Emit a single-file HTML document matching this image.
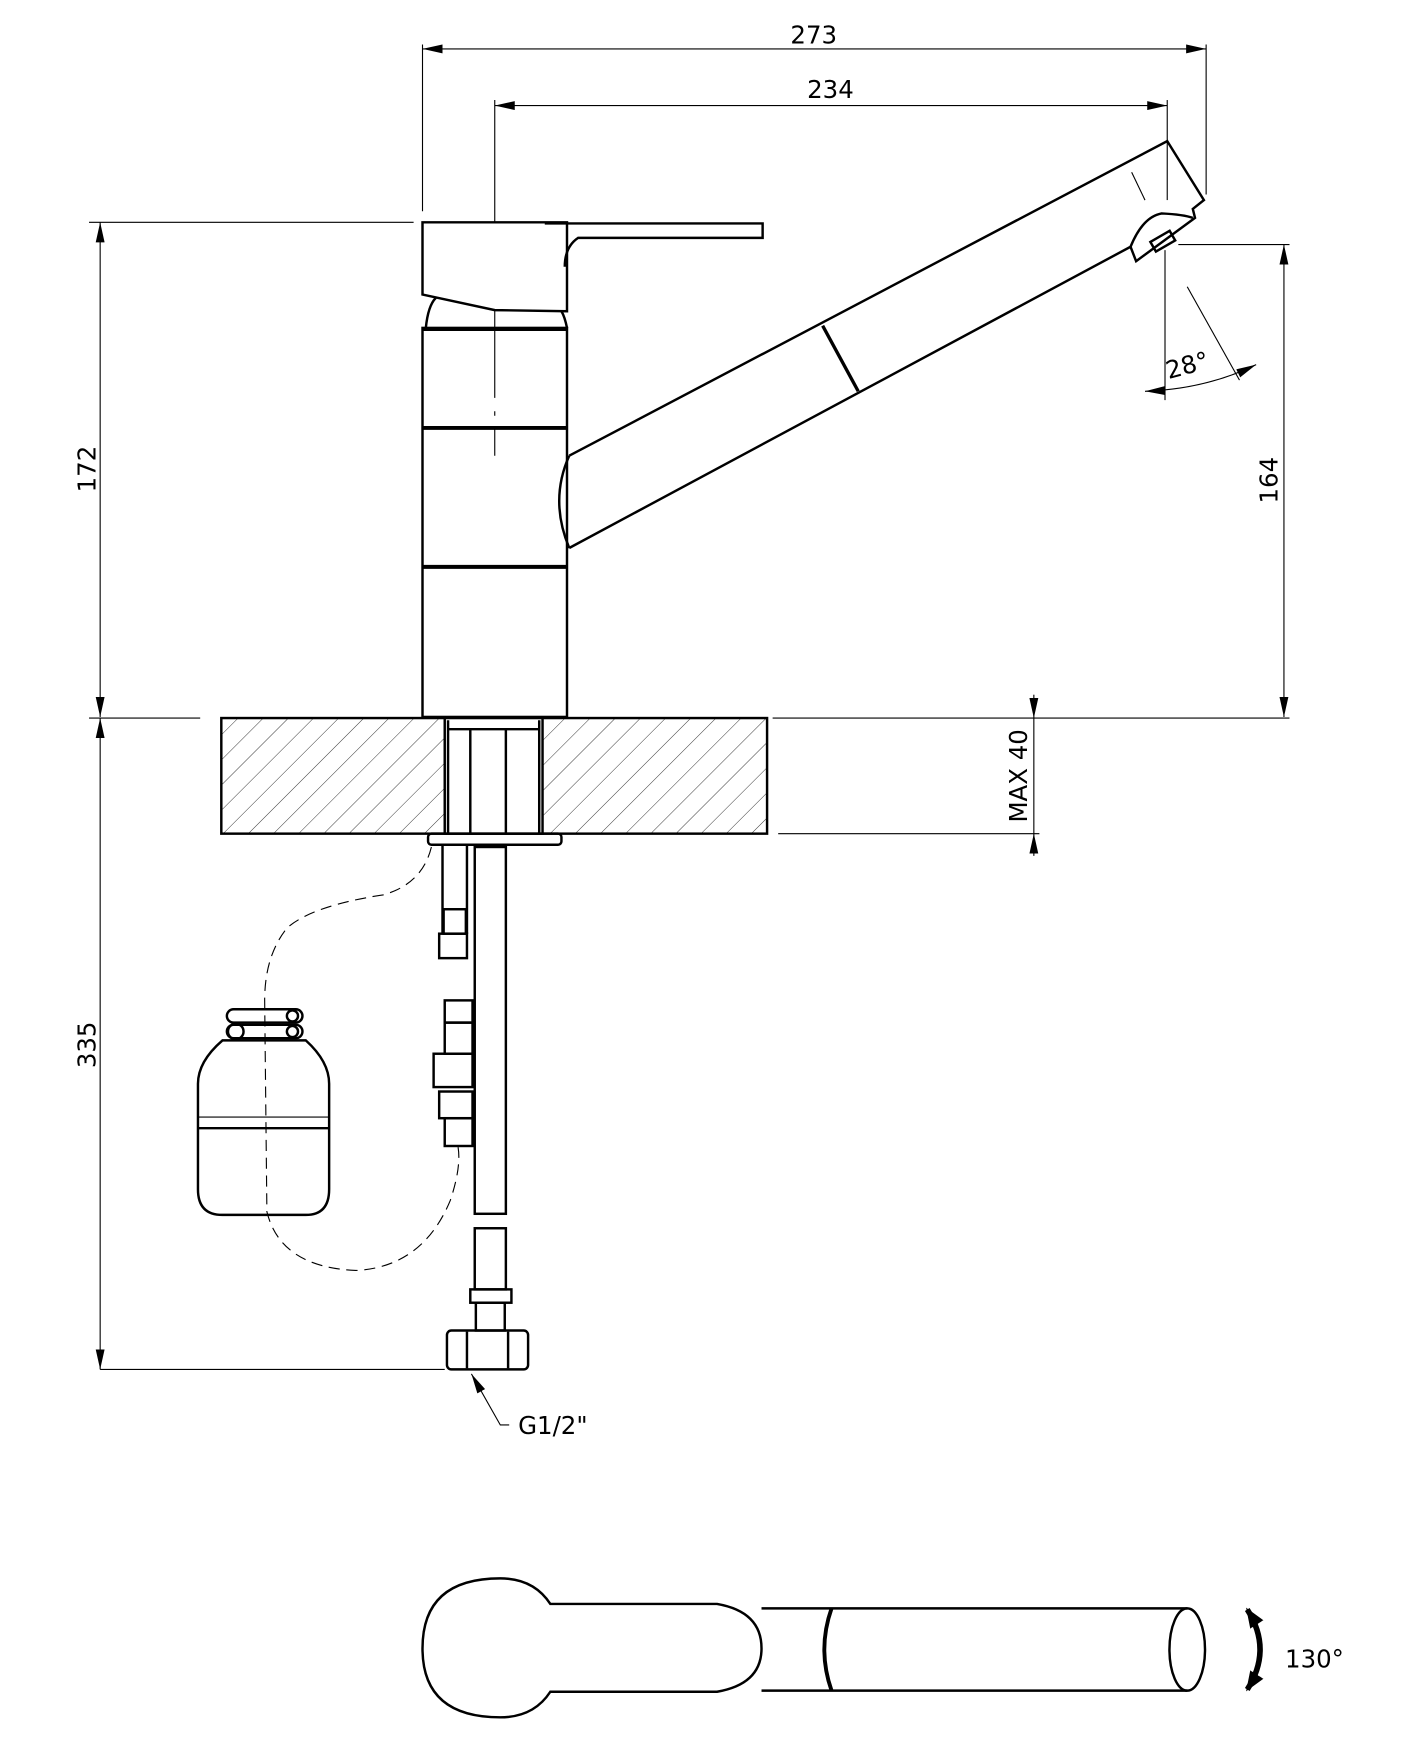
<!DOCTYPE html>
<html><head><meta charset="utf-8"><style>html,body{margin:0;padding:0;background:#fff}svg{display:block}</style></head>
<body>
<svg width="1423" height="1754" viewBox="0 0 1280 1578" xmlns="http://www.w3.org/2000/svg" font-family="'Liberation Sans Narrow','DejaVu Sans','Liberation Sans',sans-serif">
<defs>
<pattern id="h" width="16" height="16" patternUnits="userSpaceOnUse" patternTransform="rotate(45)"><line x1="0" y1="0" x2="0" y2="16" stroke="#222" stroke-width="0.8"/></pattern>
<marker id="a" markerWidth="18" markerHeight="8" refX="18" refY="4" orient="auto" markerUnits="userSpaceOnUse"><path d="M0,0 L18,4 L0,8 z" fill="#000"/></marker>
<marker id="b" markerWidth="18" markerHeight="8" refX="0" refY="4" orient="auto" markerUnits="userSpaceOnUse"><path d="M18,0 L0,4 L18,8 z" fill="#000"/></marker>
<marker id="c" markerWidth="18" markerHeight="14" refX="16" refY="7" orient="auto" markerUnits="userSpaceOnUse"><path d="M0,0 L18,7 L0,14 z" fill="#000"/></marker>
<marker id="d" markerWidth="18" markerHeight="14" refX="2" refY="7" orient="auto" markerUnits="userSpaceOnUse"><path d="M18,0 L0,7 L18,14 z" fill="#000"/></marker>
</defs>
<g stroke="#000" fill="none" stroke-width="1">
<line x1="380" y1="44" x2="1085" y2="44" marker-start="url(#b)" marker-end="url(#a)"/>
<line x1="380" y1="40" x2="380" y2="190"/><line x1="1085" y1="40" x2="1085" y2="175"/>
<line x1="445" y1="95" x2="1050" y2="95" marker-start="url(#b)" marker-end="url(#a)"/>
<line x1="1050" y1="90" x2="1050" y2="180"/>
<line x1="445" y1="90" x2="445" y2="410" stroke-dasharray="160,12,4,12,80,12,4,12"/>
<line x1="80" y1="200" x2="372" y2="200"/>
<line x1="90" y1="200" x2="90" y2="645" marker-start="url(#b)" marker-end="url(#a)"/>
<line x1="80" y1="646" x2="180" y2="646"/><line x1="695" y1="646" x2="1160" y2="646"/>
<line x1="1155" y1="220" x2="1155" y2="645" marker-start="url(#b)" marker-end="url(#a)"/>
<line x1="1060" y1="220" x2="1160" y2="220"/>
<line x1="930" y1="625" x2="930" y2="646" marker-end="url(#a)"/>
<line x1="930" y1="770" x2="930" y2="750" marker-end="url(#a)"/>
<line x1="930" y1="646" x2="930" y2="750"/>
<line x1="700" y1="750" x2="935" y2="750"/>
<line x1="90" y1="646" x2="90" y2="1232" marker-start="url(#b)" marker-end="url(#a)"/>
<line x1="90" y1="1232" x2="400" y2="1232"/>
<line x1="1048" y1="225" x2="1048" y2="360"/>
<line x1="1068" y1="258" x2="1115" y2="342"/>
<path d="M1030,352 Q1085,350 1130,328" marker-start="url(#b)" marker-end="url(#a)"/>
<line x1="1018" y1="155" x2="1030" y2="180"/>
<path d="M424,1236 L450,1282 L458,1282" marker-start="url(#b)"/>
</g>
<g fill="#000" font-size="22">
<text x="732" y="39" text-anchor="middle">273</text>
<text x="747" y="88" text-anchor="middle">234</text>
<text transform="translate(86,422) rotate(-90)" text-anchor="middle">172</text>
<text transform="translate(1149,432) rotate(-90)" text-anchor="middle">164</text>
<text transform="translate(924,698) rotate(-90)" text-anchor="middle">MAX 40</text>
<text transform="translate(86,940) rotate(-90)" text-anchor="middle">335</text>
<text transform="translate(1070,336) rotate(-15)" text-anchor="middle">28°</text>
<text x="466" y="1290">G1/2"</text>
<text x="1156" y="1500">130°</text>
</g>
<g stroke="#000" fill="none" stroke-width="2.2">
<path d="M380,200 L510,200 L510,280 L445,279 L380,265 Z" fill="#fff"/>
<path d="M490,201 L686,201 L686,214 L520,214 Q508,222 508,240"/>
<path d="M383,295 Q385,275 392,268 M510,295 Q508,285 505,280"/>
<rect x="380" y="295" width="130" height="350"/>
<line x1="380" y1="296" x2="510" y2="296" stroke-width="3.5"/>
<line x1="380" y1="385" x2="510" y2="385" stroke-width="3.5"/>
<line x1="380" y1="510" x2="510" y2="510" stroke-width="3.5"/>
<path d="M512,410 L1050,127 L1083,180 L1073,188 L1075,196 L1022,235 L1017,222 L512,493"/>
<path d="M512,410 Q494,450 512,493" />
<path d="M1017,222 Q1028,195 1045,192 Q1065,193 1073,196"/>
<rect x="1036" y="212" width="20" height="10" transform="rotate(-30 1046 217)"/>
<line x1="740" y1="293" x2="772" y2="352" stroke-width="3"/>
<rect x="199" y="646" width="491" height="104" fill="url(#h)"/>
<rect x="400" y="646" width="88" height="104" fill="#fff"/>
<line x1="403" y1="648" x2="403" y2="750"/><line x1="423" y1="656" x2="423" y2="750"/>
<line x1="455" y1="656" x2="455" y2="750"/><line x1="485" y1="648" x2="485" y2="750"/>
<line x1="403" y1="656" x2="485" y2="656"/>
<rect x="385" y="750" width="120" height="10" rx="3"/>
<line x1="398" y1="760" x2="398" y2="840"/><line x1="420" y1="760" x2="420" y2="840"/>
<rect x="399" y="818" width="20" height="22"/>
<rect x="395" y="840" width="25" height="22"/>
<rect x="427" y="762" width="28" height="330" fill="#fff"/>
<rect x="427" y="1105" width="28" height="55"/>
<rect x="423" y="1160" width="37" height="12"/>
<rect x="428" y="1172" width="26" height="25"/>
<rect x="402" y="1197" width="73" height="35" rx="4"/>
<line x1="420" y1="1198" x2="420" y2="1231"/><line x1="457" y1="1198" x2="457" y2="1231"/>
<rect x="400" y="900" width="25" height="20"/>
<rect x="400" y="920" width="25" height="28"/>
<rect x="390" y="948" width="35" height="30"/>
<rect x="395" y="982" width="30" height="24"/>
<rect x="400" y="1006" width="25" height="25"/>
<path d="M200,936 L275,936 Q296,955 296,975 L296,1070 Q296,1093 275,1093 L200,1093 Q178,1093 178,1070 L178,975 Q178,955 200,936 Z"/>
<line x1="178" y1="1005" x2="296" y2="1005" stroke-width="1"/>
<line x1="178" y1="1015" x2="296" y2="1015"/>
<rect x="204" y="908" width="68" height="12" rx="6"/>
<rect x="204" y="922" width="68" height="12" rx="6"/>
<circle cx="212" cy="928" r="7"/><circle cx="263" cy="914" r="5"/><circle cx="263" cy="928" r="5"/>
</g>
<g stroke="#000" fill="none" stroke-width="1" stroke-dasharray="10,6">
<path d="M388,762 Q380,795 345,805 Q280,815 258,835 Q238,860 238,900 L240,1090 Q252,1140 320,1143 Q380,1140 405,1080 Q415,1050 412,1032"/>
</g>
<g stroke="#000" fill="none" stroke-width="2.2">
<path d="M495,1443 L645,1443 Q685,1450 685,1483 Q685,1515 645,1522 L495,1522 Q480,1545 450,1545 Q380,1545 380,1483 Q380,1420 450,1420 Q480,1420 495,1443 Z"/>
<line x1="685" y1="1447" x2="1068" y2="1447"/><line x1="685" y1="1521" x2="1068" y2="1521"/>
<path d="M748,1447 Q735,1484 748,1521" stroke-width="3.5"/>
<ellipse cx="1068" cy="1484" rx="16" ry="37"/>
<path d="M1122,1448 Q1145,1484 1122,1520" stroke-width="5" marker-start="url(#d)" marker-end="url(#c)"/>
</g>
</svg>
</body></html>
